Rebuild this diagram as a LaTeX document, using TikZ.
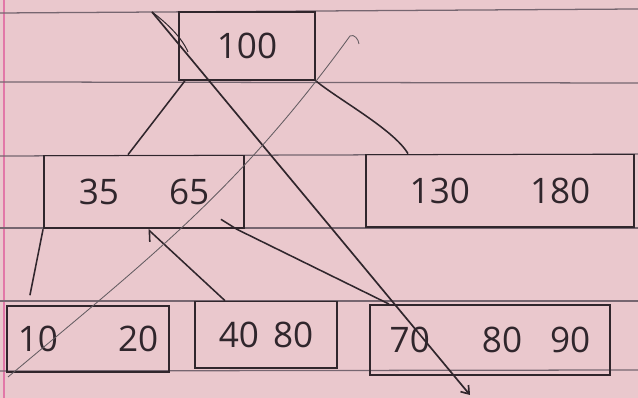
\documentclass[tikz,border=0pt]{standalone}
\usepackage{fontspec}
\setmainfont{Open Sans}
\usepackage{xcolor}
\usetikzlibrary{arrows.meta}

\definecolor{paper}{RGB}{234,200,205}
\definecolor{ruling}{RGB}{118,102,112}
\definecolor{margin}{RGB}{226,120,168}
\definecolor{ink}{RGB}{48,38,44}

\begin{document}
\begin{tikzpicture}[
    x=0.025cm, y=0.025cm,
    font=\fontsize{25}{29}\selectfont,
    keybox/.style={rectangle, draw=ink, line width=1.3pt, text=ink, inner sep=0pt},
    rule/.style={ruling, line width=0.9pt},
    link/.style={ink, line width=1.1pt},
    strike/.style={ink, line width=1.2pt},
    faint/.style={ink!75, line width=0.6pt}
]

% Paper
\fill[paper] (0,0) rectangle (638,398);
\useasboundingbox (0,0) rectangle (638,398);
\draw[margin, line width=2pt] (4,0) -- (4,398);
\draw[rule] (0,385) -- (638,389);
\draw[rule] (0,316) -- (638,315);
\draw[rule] (0,242) -- (638,244);
\draw[rule] (0,170) -- (638,170);
\draw[rule] (0,97) -- (638,97);
\draw[rule] (0,27) -- (638,28);

% Nodes
\node (root) [keybox, minimum width=3.4cm, minimum height=1.7cm] at (247,352) {100};
\node (n3565) [keybox, minimum width=5cm, minimum height=1.82cm] at (144,206) {35\hspace{1.25cm}65};
\node (n130) [keybox, minimum width=6.7cm, minimum height=1.82cm] at (500,207) {130\hspace{1.5cm}180};
\node (n1020) [keybox, minimum width=4.05cm, minimum height=1.65cm] at (88,59) {10\hspace{1.5cm}20};
\node (n4080) [keybox, minimum width=3.55cm, minimum height=1.67cm] at (266,63) {40\hspace{0.35cm}80};
\node (n708090) [keybox, minimum width=6cm, minimum height=1.75cm] at (490,58) {70\hspace{1.3cm}80\hspace{0.7cm}90};

% Connections
\draw [link] ([xshift=0.17cm]root.south west) -- ([xshift=-0.4cm]n3565.north);
\draw [link] (root.south east) to[out=-40, in=120, looseness=0.6] ([xshift=-2.3cm]n130.north);
\draw [link, shorten >=0.25cm] (n3565.south west) -- ([xshift=-1.5cm]n1020.north);
\draw [link, -{Straight Barb[left, length=2mm]}] ([xshift=-1.025cm]n4080.north) -- ([xshift=0.1cm]n3565.south);
\draw [link] ([xshift=-0.6cm, yshift=0.25cm]n3565.south east) -- ([xshift=-0.2cm]n3565.south east) -- ([xshift=0.5cm]n708090.north west);

% Crossing-out strokes
\coordinate (strikeTop) at (152,386);
\coordinate (strikeEnd) at (470,3);
\draw [strike, -{Straight Barb[length=1.8mm, width=2.6mm]}] (strikeTop) -- (strikeEnd);
\draw [strike, line width=0.7pt] (strikeTop) .. controls (168,374) and (182,360) .. (188,346);
\coordinate (faintEnd) at (8,21);
\coordinate (faintTop) at (350,362);
\draw [faint] (faintEnd) to[out=40, in=-126] (faintTop) to[out=30, in=95] ++(9,-8);

\end{tikzpicture}
\end{document}
